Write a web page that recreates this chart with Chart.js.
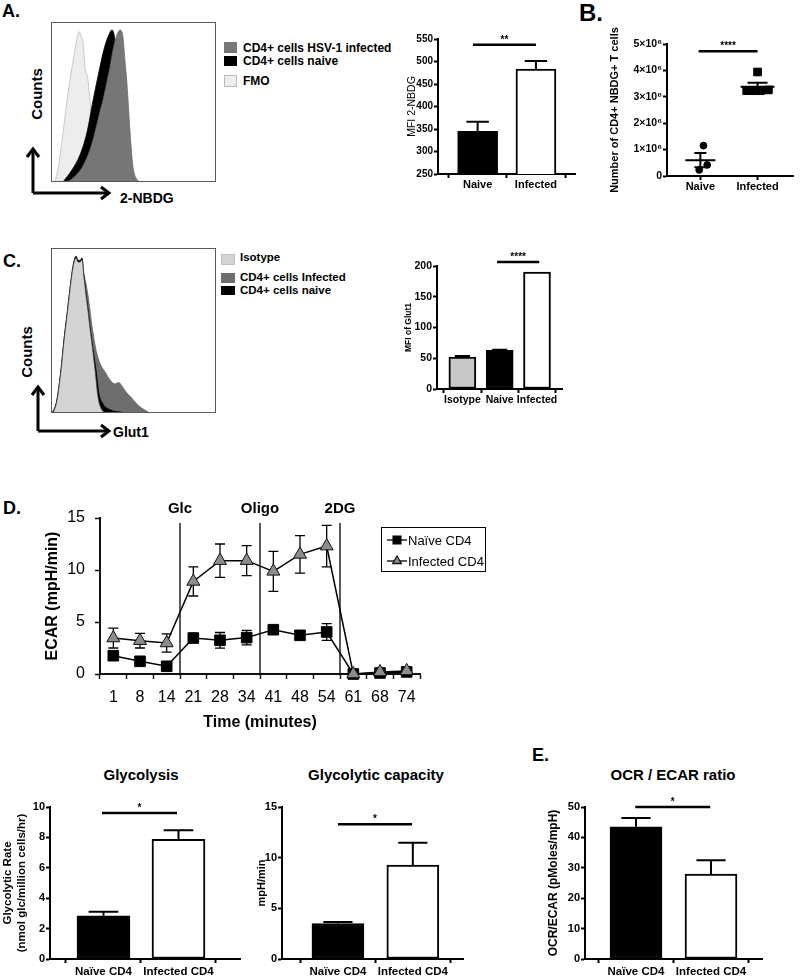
<!DOCTYPE html>
<html>
<head>
<meta charset="utf-8">
<title>CD4 T cell glucose uptake and glycolysis</title>
<script src="https://cdn.jsdelivr.net/npm/chart.js@4.4.1/dist/chart.umd.min.js"></script>
<style>
  html, body { margin: 0; padding: 0; background: #fff; }
  body { position: relative; width: 800px; height: 976px; overflow: hidden; font-family: "Liberation Sans", Arial, sans-serif; }
  canvas { position: absolute; }
  .t { position: absolute; white-space: nowrap; color: #000; line-height: 1; }
  .sw { position: absolute; box-sizing: border-box; }
  svg { position: absolute; left: 0; top: 0; }
</style>
</head>
<body>
<svg width="800" height="976">
  <g stroke="#000" stroke-width="3" fill="none">
    <path d="M33 193 V149 M33 193 H109"/>
    <path d="M27 157 L33 149 L39 157 M101 187 L109 193 L101 199"/>
    <path d="M38 431 V387 M38 431 H109"/>
    <path d="M32 395 L38 387 L44 395 M101 425 L109 431 L101 437"/>
  </g>
</svg>
<script>
// ---- A: 2-NBDG histograms (x = % of plot width, y = % of max count)
const nbdgInfX   = [6.7, 11.5, 16.4, 19.4, 23.6, 26.7, 29.7, 31.5, 33.9, 35.8, 37.6, 39.4, 41.8, 43.6, 44.8, 46, 47.9, 49.7, 51.5, 53.9];
const nbdgInfY   = [0, 1, 5.6, 10, 20, 31, 44, 51, 62.5, 72, 82.5, 90, 95, 90.6, 76, 62, 31, 9.4, 2.5, 0];
const nbdgNaiveX = [7.3, 12.7, 17.6, 21.8, 25.5, 29.7, 32, 34.5, 37, 38.8, 40.6, 43, 45.5, 47.9, 50.3];
const nbdgNaiveY = [0, 7.5, 17, 31, 51, 72, 82.5, 90.6, 95, 88.8, 70, 39, 14, 1.2, 0];
const nbdgFmoX   = [2.4, 4.2, 6.7, 9.7, 12, 14.5, 15.8, 17, 18.2, 19.4, 20.6, 22.4, 23.6, 25.5, 27.9, 29.7, 32.7, 35.8];
const nbdgFmoY   = [0, 7.5, 26, 51, 67, 82.5, 90, 94, 91, 87.5, 72, 64, 51, 32.5, 14, 4.4, 0.6, 0];

// ---- A: MFI 2-NBDG
const nbdgGroups = ['Naive', 'Infected'];
const mfiNbdg    = [345, 483];
const mfiNbdgSem = [21, 18];

// ---- B: number of CD4+ NBDG+ T cells
const naiveCountX = [1.055, 0.98, 1.12];
const naiveCount  = [1.15e6, 0.23e6, 0.42e6];
const infCountX   = [2.0, 1.81, 1.91, 2.05, 2.19];
const infCount    = [3.94e6, 3.23e6, 3.23e6, 3.23e6, 3.26e6];
const countMean   = [0.6e6, 3.38e6];
const countSem    = [0.27e6, 0.15e6];

// ---- C: Glut1 histograms
const glutIsoX   = [1.2, 3, 4.2, 6.1, 7.9, 9.7, 11.5, 13.3, 15.2, 16.4, 17.6, 18.8, 20, 21.2, 22.4, 23.6, 24.8, 26.7, 28.5, 30.9, 33.9];
const glutIsoY   = [0, 4.8, 11, 26, 44, 59, 74.5, 88, 94, 91.5, 91.5, 93, 82, 71.5, 62, 51.5, 42, 26, 9.7, 1.8, 0];
const glutNaiveX = [0.6, 3, 4.2, 6.1, 7.9, 9.7, 11.5, 13.3, 15.2, 16.4, 17.6, 18.8, 20, 21.2, 22.4, 23.6, 24.8, 27.3, 29, 31.5, 35.8, 41.8, 46.7];
const glutNaiveY = [0, 5.5, 12, 27, 45, 60, 75.5, 89, 95, 92.5, 92.5, 94, 83, 72.5, 63, 52.5, 43, 26, 12, 5.5, 2, 0.6, 0];
const glutInfX   = [1.8, 4.2, 6.1, 7.9, 9.7, 11.5, 13.3, 15.8, 18, 20, 22.4, 24.8, 27.3, 29.7, 32.7, 35.8, 38.8, 41, 43, 45.5, 49, 52, 55.8, 60];
const glutInfY   = [0, 10, 25, 43, 58, 73, 87, 93, 90, 83.6, 71.5, 53, 38, 30, 25, 20, 17.6, 18.5, 16.4, 12.7, 9, 5.5, 2.4, 0];

// ---- C: MFI of Glut1
const glutGroups = ['Isotype', 'Naive', 'Infected'];
const mfiGlut    = [52, 63, 190];
const mfiGlutSem = [1.5, 0.8, 0];

// ---- D: ECAR time course
const ecarTimes    = ['1', '8', '14', '21', '28', '34', '41', '48', '54', '61', '68', '74'];
const ecarSeries   = ['Naïve CD4', 'Infected CD4'];
const naiveEcar    = [1.76, 1.22, 0.74, 3.46, 3.24, 3.5, 4.26, 3.72, 4.04, 0, 0.1, 0.2];
const naiveEcarSem = [0.2, 0.15, 0.15, 0.25, 0.75, 0.7, 0.25, 0.2, 0.8, 0.05, 0.1, 0.1];
const infEcar      = [3.46, 3.2, 2.98, 8.9, 10.9, 10.9, 9.87, 11.5, 12.3, 0, 0.2, 0.3];
const infEcarSem   = [0.96, 0.7, 0.87, 1.4, 1.6, 1.45, 1.93, 1.8, 2.0, 0.05, 0.1, 0.1];
const injections   = ['Glc', 'Oligo', '2DG'];
const injectAfter  = [2, 5, 8]; // index of the last reading before each injection

// ---- D/E: summary bars
const cd4Groups     = ['Naïve CD4', 'Infected CD4'];
const glycolysis    = [2.84, 7.88];
const glycolysisSem = [0.27, 0.59];
const capacity      = [3.5, 9.28];
const capacitySem   = [0.15, 2.2];
const ocrEcar       = [43.5, 27.9];
const ocrEcarSem    = [2.9, 4.6];

const FONT = '"Liberation Sans", Arial, sans-serif';
Chart.defaults.font.family = FONT;
Chart.defaults.color = '#000';
Chart.defaults.animation = false;
Chart.defaults.responsive = false;
Chart.defaults.plugins.legend.display = false;
Chart.defaults.plugins.tooltip.enabled = false;

function mountCanvas(left, top, width, height) {
  const c = document.createElement('canvas');
  c.width = width; c.height = height;
  Object.assign(c.style, { left: left + 'px', top: top + 'px', width: width + 'px', height: height + 'px' });
  document.body.appendChild(c);
  return c;
}

function text(str, x, y, size, mode, weight) {
  const d = document.createElement('div');
  d.className = 't';
  d.textContent = str;
  d.style.fontSize = size + 'px';
  d.style.fontWeight = weight || 'bold';
  d.style.left = x + 'px';
  if (mode === 'rot') {
    d.style.top = y + 'px';
    d.style.transform = 'translate(-50%,-50%) rotate(-90deg)';
  } else {
    d.style.top = (y - size / 2) + 'px';
    if (mode === 'center') d.style.transform = 'translateX(-50%)';
  }
  document.body.appendChild(d);
}

function swatch(x, y, w, h, bg, border) {
  const d = document.createElement('div');
  d.className = 'sw';
  Object.assign(d.style, { left: x + 'px', top: y + 'px', width: w + 'px', height: h + 'px', background: bg });
  if (border) d.style.border = '1px solid ' + border;
  document.body.appendChild(d);
}

// thin grey box round the flow histograms
const frame = {
  id: 'frame',
  afterDraw(chart) {
    const { ctx, chartArea: a } = chart;
    ctx.save();
    ctx.strokeStyle = '#5a5a5a';
    ctx.lineWidth = 1;
    ctx.strokeRect(a.left + 0.5, a.top + 0.5, a.width - 1, a.height - 1);
    ctx.restore();
  }
};

function histogram(box, series) {
  const c = mountCanvas(box[0], box[1], box[2] - box[0], box[3] - box[1]);
  new Chart(c, {
    type: 'line',
    data: {
      datasets: series.map(s => ({
        data: s.x.map((x, i) => ({ x, y: s.y[i] })),
        fill: 'origin', backgroundColor: s.fill, borderColor: s.line, borderWidth: s.lw,
        pointRadius: 0, cubicInterpolationMode: 'monotone'
      }))
    },
    options: {
      layout: { padding: 0 },
      scales: {
        x: { type: 'linear', display: false, min: 0, max: 100 },
        y: { display: false, min: 0, max: 100 }
      }
    },
    plugins: [frame]
  });
}

// canvas placed so the plot area lands on o.plot = [left, top, right, bottom]
function place(o) {
  const lh = o.titleSize * 1.2;
  const left = Math.round(o.titleX - lh / 2);
  const top = o.plot[1] - o.padTop;
  const right = o.plot[2] + o.padRight;
  return {
    canvas: mountCanvas(left, top, right - left, o.bottom - top),
    yW: o.plot[0] - left,
    xH: o.bottom - o.plot[3]
  };
}

function prismScales(o, g) {
  const axisGrid = { drawOnChartArea: false, tickLength: 4, tickWidth: 2, color: '#000' };
  const axisBorder = { color: '#000', width: 2 };
  return {
    x: {
      type: 'linear', offset: false, min: o.xRange[0], max: o.xRange[1],
      afterBuildTicks: s => { s.ticks = o.labels.map((_, i) => ({ value: i + 1 })); },
      afterFit: s => { s.height = g.xH; },
      ticks: { callback: v => o.labels[v - 1], font: { size: o.labelSize, weight: 'bold' }, padding: o.xPad, maxRotation: 0, autoSkip: false },
      grid: axisGrid, border: axisBorder
    },
    y: {
      min: o.yRange[0], max: o.yRange[1],
      afterFit: s => { s.width = g.yW; },
      ticks: { stepSize: o.yRange[2], font: { size: o.tickSize, weight: 'bold' }, padding: 1, callback: o.yFmt },
      grid: axisGrid, border: axisBorder,
      title: { display: true, text: o.title, font: { size: o.titleSize, weight: o.titleWeight || 'bold' }, padding: 0 }
    }
  };
}

function drawSig(ctx, x, y, sig) {
  const sy = y.getPixelForValue(sig.y);
  const x0 = x.getPixelForValue(sig.from), x1 = x.getPixelForValue(sig.to);
  ctx.save();
  ctx.strokeStyle = '#000';
  ctx.lineWidth = 2.5;
  ctx.beginPath(); ctx.moveTo(x0, sy); ctx.lineTo(x1, sy); ctx.stroke();
  ctx.fillStyle = '#000';
  ctx.font = 'bold 10px ' + FONT;
  ctx.textAlign = 'center';
  ctx.textBaseline = 'alphabetic';
  ctx.fillText(sig.text, (x0 + x1) / 2, sy - 2);
  ctx.restore();
}

function barChart(o) {
  const g = place(o);
  new Chart(g.canvas, {
    type: 'bar',
    data: {
      datasets: [{
        data: o.values.map((v, i) => ({ x: i + 1, y: v })),
        backgroundColor: o.colors, borderColor: '#000', borderWidth: 2, borderSkipped: false,
        barThickness: o.barW
      }]
    },
    options: {
      layout: { padding: { top: o.padTop, right: o.padRight, left: 0, bottom: 0 } },
      scales: prismScales(o, g)
    },
    plugins: [{
      id: 'barMarks',
      afterDatasetsDraw(chart) {
        const { ctx, scales: { x, y } } = chart;
        ctx.save();
        ctx.strokeStyle = '#000';
        ctx.lineWidth = 2;
        o.values.forEach((v, i) => {
          if (!o.sem[i]) return;
          const cx = x.getPixelForValue(i + 1);
          const y0 = y.getPixelForValue(v), y1 = y.getPixelForValue(v + o.sem[i]);
          const hw = o.barW * 0.28;
          ctx.beginPath();
          ctx.moveTo(cx, y0); ctx.lineTo(cx, y1);
          ctx.moveTo(cx - hw, y1); ctx.lineTo(cx + hw, y1);
          ctx.stroke();
        });
        ctx.restore();
        drawSig(ctx, x, y, o.sig);
      }
    }]
  });
}

// ---------- A ----------
histogram([51, 22, 216, 182], [
  { x: nbdgInfX, y: nbdgInfY, fill: '#767676', line: '#6a6a6a', lw: 0.8 },
  { x: nbdgNaiveX, y: nbdgNaiveY, fill: '#000', line: '#000', lw: 0.8 },
  { x: nbdgFmoX, y: nbdgFmoY, fill: '#ededed', line: '#bdbdbd', lw: 0.8 }
]);

barChart({
  labels: nbdgGroups, values: mfiNbdg, sem: mfiNbdgSem, colors: ['#000', '#fff'], barW: 40,
  plot: [438, 39, 575, 174], padTop: 14, padRight: 4, bottom: 194,
  titleX: 412, titleSize: 10.5, title: 'MFI 2-NBDG', titleWeight: 'normal',
  xRange: [0.32, 2.67], yRange: [250, 550, 50], tickSize: 10, labelSize: 11, xPad: 0.4,
  sig: { from: 0.92, to: 2.0, y: 537, text: '**' }
});

// ---------- B ----------
(function () {
  const o = {
    labels: nbdgGroups, plot: [667, 44, 800, 176], padTop: 26, padRight: 0, bottom: 196,
    titleX: 615, titleSize: 11, title: 'Number of CD4+ NBDG+ T cells',
    xRange: [0.417, 2.63], yRange: [0, 5e6, 1e6], tickSize: 10.5, labelSize: 11, xPad: 0.4,
    yFmt: v => v === 0 ? '0' : (v / 1e6) + '×10⁶'
  };
  const g = place(o);
  new Chart(g.canvas, {
    type: 'scatter',
    data: {
      datasets: [
        { data: naiveCountX.map((x, i) => ({ x, y: naiveCount[i] })), pointStyle: 'circle', pointRadius: 3.4,
          backgroundColor: '#000', borderColor: '#000', clip: false },
        { data: infCountX.map((x, i) => ({ x, y: infCount[i] })), pointStyle: 'rect', pointRadius: 5.4,
          backgroundColor: '#000', borderColor: '#000', clip: false }
      ]
    },
    options: {
      layout: { padding: { top: o.padTop, right: 0, left: 0, bottom: 0 } },
      scales: prismScales(o, g)
    },
    plugins: [{
      id: 'meanSem',
      afterDatasetsDraw(chart) {
        const { ctx, scales: { x, y } } = chart;
        ctx.save();
        ctx.strokeStyle = '#000';
        ctx.lineWidth = 2;
        countMean.forEach((m, i) => {
          const cx = x.getPixelForValue(i + 1);
          const my = y.getPixelForValue(m);
          const hi = y.getPixelForValue(m + countSem[i]), lo = y.getPixelForValue(m - countSem[i]);
          const hw = i === 0 ? 15 : 17, cw = i === 0 ? 6 : 10;
          ctx.beginPath();
          ctx.moveTo(cx - hw, my); ctx.lineTo(cx + hw, my);
          ctx.moveTo(cx, hi); ctx.lineTo(cx, lo);
          ctx.moveTo(cx - cw, hi); ctx.lineTo(cx + cw, hi);
          ctx.moveTo(cx - cw, lo); ctx.lineTo(cx + cw, lo);
          ctx.stroke();
        });
        ctx.restore();
        drawSig(ctx, x, y, { from: 0.97, to: 2.0, y: 4.73e6, text: '****' });
      }
    }]
  });
})();

// ---------- C ----------
histogram([51, 248, 216, 413], [
  { x: glutIsoX, y: glutIsoY, fill: '#d4d4d4', line: '#3a3a3a', lw: 0.7 },
  { x: glutNaiveX, y: glutNaiveY, fill: '#000', line: '#000', lw: 0.8 },
  { x: glutInfX, y: glutInfY, fill: '#6e6e6e', line: '#666', lw: 0.8 }
]);

barChart({
  labels: glutGroups, values: mfiGlut, sem: mfiGlutSem, colors: ['#c8c8c8', '#000', '#fff'], barW: 27,
  plot: [437, 266, 562, 389], padTop: 18, padRight: 4, bottom: 410,
  titleX: 409, titleSize: 8.5, title: 'MFI of Glut1',
  xRange: [0.32, 3.67], yRange: [0, 200, 50], tickSize: 10.5, labelSize: 10.5, xPad: 0.4,
  sig: { from: 1.93, to: 3.06, y: 206.5, text: '****' }
});

// ---------- D: ECAR ----------
const ecarSem = [infEcarSem, naiveEcarSem];
const ecarMarks = {
  id: 'ecarMarks',
  beforeDatasetsDraw(chart) {
    const { ctx, scales: { x, y } } = chart;
    ctx.save();
    ctx.strokeStyle = '#000';
    ctx.lineWidth = 1.3;
    chart.data.datasets.forEach((ds, d) => {
      ds.data.forEach((v, i) => {
        const e = ecarSem[d][i];
        const cx = x.getPixelForValue(i);
        const hi = y.getPixelForValue(v + e), lo = y.getPixelForValue(Math.max(0, v - e));
        ctx.beginPath();
        ctx.moveTo(cx, hi); ctx.lineTo(cx, lo);
        ctx.moveTo(cx - 5, hi); ctx.lineTo(cx + 5, hi);
        ctx.moveTo(cx - 5, lo); ctx.lineTo(cx + 5, lo);
        ctx.stroke();
      });
    });
    ctx.restore();
  },
  afterDraw(chart) {
    const { ctx, chartArea: a, scales: { x } } = chart;
    ctx.save();
    // injection markers
    ctx.strokeStyle = '#000';
    ctx.lineWidth = 1.3;
    ctx.fillStyle = '#000';
    ctx.font = 'bold 15px ' + FONT;
    ctx.textAlign = 'center';
    ctx.textBaseline = 'middle';
    injections.forEach((name, k) => {
      const px = x.getPixelForValue(injectAfter[k] + 0.5);
      ctx.beginPath(); ctx.moveTo(px, a.top + 5); ctx.lineTo(px, a.bottom); ctx.stroke();
      ctx.fillText(name, px, a.top - 9);
    });
    // legend box
    const bx = a.right - 39, by = a.top + 9;
    ctx.lineWidth = 1;
    ctx.strokeRect(bx + 0.5, by + 0.5, 104, 44);
    ctx.font = '13px ' + FONT;
    ctx.textAlign = 'left';
    [1, 0].forEach((d, row) => {
      const ds = chart.data.datasets[d];
      const ly = by + 13 + row * 21;
      ctx.strokeStyle = '#000';
      ctx.lineWidth = 1.3;
      ctx.beginPath(); ctx.moveTo(bx + 6, ly); ctx.lineTo(bx + 26, ly); ctx.stroke();
      ctx.fillStyle = ds.pointBackgroundColor;
      ctx.strokeStyle = ds.pointBorderColor;
      Chart.helpers.drawPoint(ctx, { pointStyle: ds.pointStyle, radius: ds.pointStyle === 'rect' ? 5.5 : 5, borderWidth: 1, rotation: 0 }, bx + 16, ly);
      ctx.fillStyle = '#000';
      ctx.fillText(ds.label, bx + 27, ly + 1);
    });
    ctx.restore();
  }
};

new Chart(mountCanvas(43, 495, 447, 237), {
  type: 'line',
  data: {
    labels: ecarTimes,
    datasets: [
      { label: ecarSeries[1], data: infEcar, borderColor: '#000', borderWidth: 1.5, pointStyle: 'triangle', pointRadius: 7.5,
        pointBackgroundColor: '#8c8c8c', pointBorderColor: '#111', pointBorderWidth: 1, clip: false },
      { label: ecarSeries[0], data: naiveEcar, borderColor: '#000', borderWidth: 1.5, pointStyle: 'rect', pointRadius: 7.5,
        pointBackgroundColor: '#000', pointBorderColor: '#000', pointBorderWidth: 1, clip: false }
    ]
  },
  options: {
    layout: { padding: { top: 23, right: 70, left: 0, bottom: 0 } },
    scales: {
      x: {
        offset: true,
        grid: { offset: true, drawOnChartArea: false, tickLength: 5, tickWidth: 1.5, color: '#111' },
        border: { color: '#111', width: 2 },
        ticks: { font: { size: 16 }, padding: 9, maxRotation: 0, autoSkip: false },
        title: { display: true, text: 'Time (minutes)', font: { size: 16, weight: 'bold' }, padding: 0 },
        afterFit: s => { s.height = 58; }
      },
      y: {
        min: 0, max: 15,
        grid: { drawOnChartArea: false, tickLength: 5, tickWidth: 1.5, color: '#111' },
        border: { color: '#111', width: 2 },
        ticks: { stepSize: 5, font: { size: 16 }, padding: 10 },
        title: { display: true, text: 'ECAR (mpH/min)', font: { size: 16, weight: 'bold' }, padding: 0 },
        afterFit: s => { s.width = 57; }
      }
    }
  },
  plugins: [ecarMarks]
});

// ---------- D/E: summary bars ----------
barChart({
  labels: cd4Groups, values: glycolysis, sem: glycolysisSem, colors: ['#000', '#fff'], barW: 53,
  plot: [50, 807, 240, 959], padTop: 16, padRight: 4, bottom: 976,
  titleX: 8, titleSize: 11.5, title: ['Glycolytic Rate', '(nmol glc/million cells/hr)'],
  xRange: [0.287, 2.82], yRange: [0, 10, 2], tickSize: 11, labelSize: 11.5, xPad: 2.4,
  sig: { from: 0.98, to: 1.98, y: 9.6, text: '*' }
});

barChart({
  labels: cd4Groups, values: capacity, sem: capacitySem, colors: ['#000', '#fff'], barW: 52,
  plot: [282, 807, 463, 959], padTop: 16, padRight: 4, bottom: 976,
  titleX: 262, titleSize: 11, title: 'mpH/min',
  xRange: [0.253, 2.67], yRange: [0, 15, 5], tickSize: 11, labelSize: 11.5, xPad: 2.4,
  sig: { from: 1.0, to: 1.99, y: 13.3, text: '*' }
});

barChart({
  labels: cd4Groups, values: ocrEcar, sem: ocrEcarSem, colors: ['#000', '#fff'], barW: 52,
  plot: [585, 807, 762, 959], padTop: 16, padRight: 4, bottom: 976,
  titleX: 553, titleSize: 12, title: 'OCR/ECAR (pMoles/mpH)',
  xRange: [0.32, 2.68], yRange: [0, 50, 10], tickSize: 11, labelSize: 11.5, xPad: 2.4,
  sig: { from: 0.99, to: 1.99, y: 50, text: '*' }
});

// ---------- free text ----------
text('A.', 2, 11, 18);
text('B.', 579, 13, 24);
text('C.', 3, 261, 18);
text('D.', 3, 508, 18);
text('E.', 532, 755, 18);

text('Counts', 36, 94, 15, 'rot');
text('2-NBDG', 120, 198, 14);
text('Counts', 26, 352, 15, 'rot');
text('Glut1', 113, 432, 14);

swatch(224, 42, 13, 11, '#777');
text('CD4+ cells HSV-1 infected', 243, 48, 12);
swatch(224, 56, 13, 10, '#000');
text('CD4+ cells naive', 243, 61, 12);
swatch(224, 75, 13, 12, '#eee', '#bbb');
text('FMO', 243, 81, 12);

swatch(221, 254, 14, 11, '#d3d3d3', '#c0c0c0');
text('Isotype', 240, 258, 11.5);
swatch(221, 273, 14, 10, '#6e6e6e');
text('CD4+ cells Infected', 240, 278, 11.5);
swatch(221, 286, 14, 9, '#000');
text('CD4+ cells naive', 240, 291, 11.5);

text('Glycolysis', 141, 774, 15, 'center');
text('Glycolytic capacity', 376, 774, 15, 'center');
text('OCR / ECAR ratio', 673, 774, 15, 'center');
</script>
</body>
</html>
